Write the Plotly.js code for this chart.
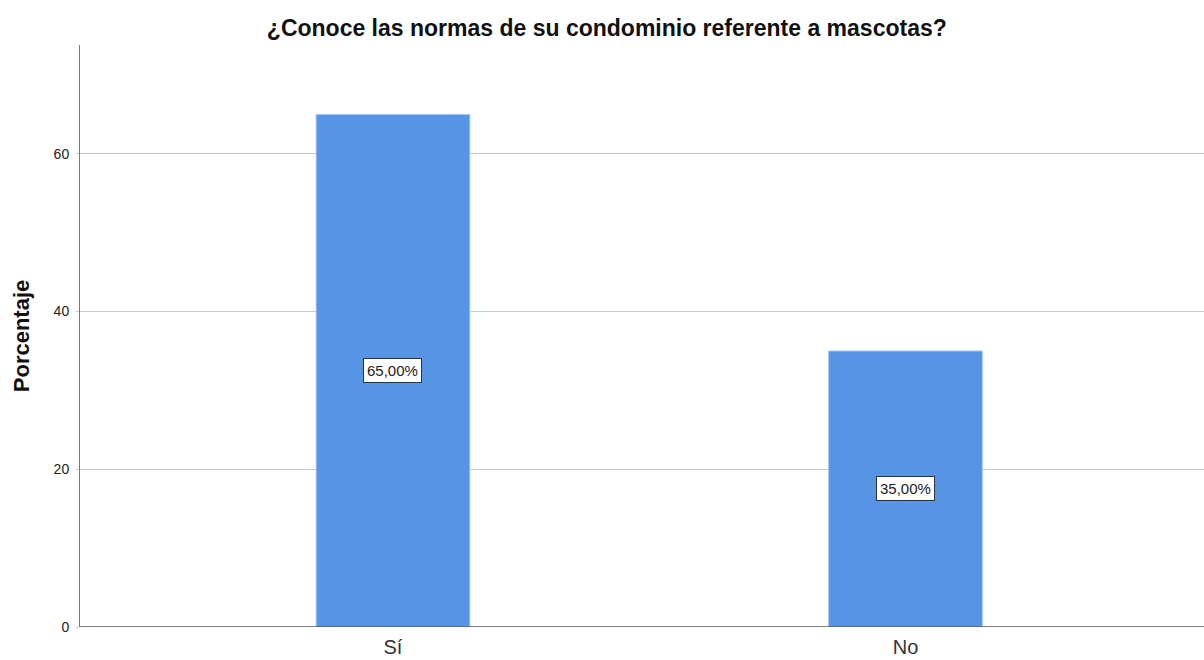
<!DOCTYPE html>
<html>
<head>
<meta charset="utf-8">
<script src="https://cdn.plot.ly/plotly-3.0.1.min.js"></script>
<style>
  body { margin: 0; background: #fff; }
  #chart { width: 1204px; height: 660px; }
</style>
</head>
<body>
<div id="chart"></div>
<script>
const categories = ["Sí", "No"];
const percentages = [65, 35];
const y_ticks = [0, 20, 40, 60];

const bar_color = "#5595e3";
const font_family = "Arial, Liberation Sans, sans-serif";

let trace = {
  x: categories,
  y: percentages,
  type: "bar",
  width: 0.3,
  marker: { color: bar_color, line: { color: "#a9c8f0", width: 1 } },
  hoverinfo: "none"
};

// value boxes sit at half bar height
let labels = categories.map((cat, i) => ({
  x: cat,
  y: percentages[i] / 2,
  text: percentages[i].toFixed(2).replace(".", ",") + "%",
  showarrow: false,
  bgcolor: "#ffffff",
  bordercolor: "#333333",
  borderwidth: 1,
  borderpad: 3,
  font: { family: font_family, size: 15, color: "#222" }
}));

let layout = {
  width: 1204,
  height: 660,
  margin: { l: 80, r: 0, t: 45, b: 33 },
  paper_bgcolor: "#ffffff",
  plot_bgcolor: "#ffffff",
  showlegend: false,
  title: {
    text: "<b>¿Conoce las normas de su condominio referente a mascotas?</b>",
    x: 0.504,
    xanchor: "center",
    y: 0.957,
    yanchor: "middle",
    font: { family: font_family, size: 23, color: "#111" }
  },
  xaxis: {
    type: "category",
    range: [-0.6107, 1.5825],
    showgrid: false,
    zeroline: false,
    showline: false,
    ticks: "",
    tickfont: { family: font_family, size: 20, color: "#333" },
    ticklabelstandoff: 6
  },
  yaxis: {
    range: [0, 73.8],
    tickvals: y_ticks,
    ticktext: y_ticks.map(String),
    showgrid: true,
    gridcolor: "#c8c8c8",
    gridwidth: 1,
    zeroline: false,
    showline: true,
    linecolor: "#777",
    linewidth: 1,
    ticks: "outside",
    ticklen: 3,
    tickcolor: "#c8c8c8",
    ticklabelstandoff: 4,
    tickfont: { family: font_family, size: 14, color: "#222" },
    title: {
      text: "<b>Porcentaje</b>",
      standoff: 17,
      font: { family: font_family, size: 22, color: "#111" }
    }
  },
  shapes: [{
    type: "line", xref: "paper", yref: "y",
    x0: 0, x1: 1, y0: 0, y1: 0,
    line: { color: "#555", width: 1.5 }
  }],
  annotations: labels
};

Plotly.newPlot("chart", [trace], layout, { displayModeBar: false, staticPlot: true });
</script>
</body>
</html>
